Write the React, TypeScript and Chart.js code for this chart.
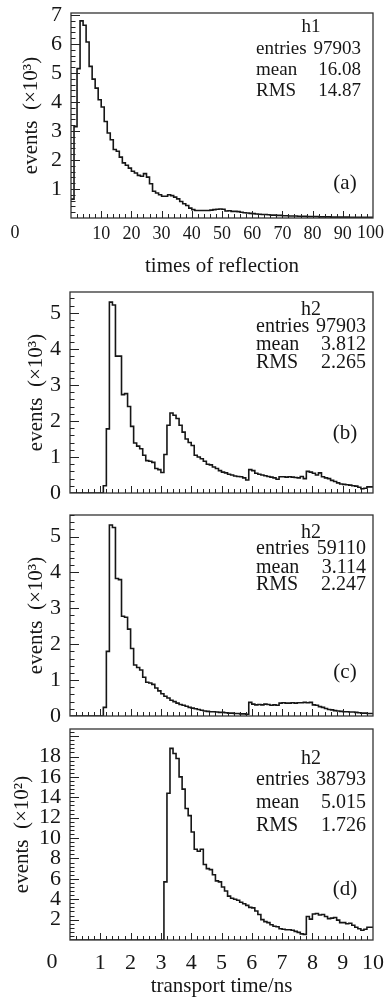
import React, { useEffect, useRef } from "react";
import { Chart, registerables } from "chart.js";

Chart.register(...registerables);

const SERIF = "'Liberation Serif', 'Times New Roman', serif";
Chart.defaults.font.family = SERIF;
Chart.defaults.color = "#111";

// ---------- data (bin contents) ----------
// (a) times of reflection, 100 bins of width 1, unit 10^3
const reflectionBins = [
  0.62, 0.65, 3.15, 5.15, 6.8, 6.65, 6.07, 5.23, 4.79, 4.48,
  4.08, 3.83, 3.33, 2.93, 2.7, 2.36, 2.3, 2.1, 1.9, 1.82,
  1.72, 1.61, 1.55, 1.47, 1.44, 1.53, 1.41, 1.18, 0.92, 0.86,
  0.8, 0.75, 0.75, 0.8, 0.77, 0.72, 0.66, 0.57, 0.49, 0.43,
  0.34, 0.29, 0.26, 0.26, 0.26, 0.26, 0.26, 0.27, 0.29, 0.3,
  0.31, 0.3, 0.24, 0.25, 0.23, 0.23, 0.22, 0.2, 0.18, 0.17,
  0.16, 0.15, 0.14, 0.13, 0.12, 0.12, 0.11, 0.1, 0.1, 0.09,
  0.09, 0.08, 0.08, 0.07, 0.07, 0.07, 0.06, 0.06, 0.06, 0.05,
  0.05, 0.05, 0.05, 0.04, 0.04, 0.04, 0.04, 0.03, 0.03, 0.03,
  0.03, 0.03, 0.03, 0.02, 0.02, 0.02, 0.02, 0.02, 0.02, 0.02,
];

// (b) transport time, all events, 100 bins of 0.1 ns, unit 10^3
const transportAllBins = [
  0, 0, 0, 0, 0, 0, 0, 0, 0, 0,
  0, 0, 0.2, 1.78, 5.3, 5.22, 3.8, 3.8, 2.73, 2.76,
  2.4, 1.85, 1.39, 1.3, 1.23, 1.05, 0.9, 0.88, 0.85, 0.68,
  0.65, 0.57, 1.07, 1.88, 2.22, 2.16, 2.07, 1.88, 1.69, 1.5,
  1.4, 1.32, 1.05, 1.0, 0.95, 0.88, 0.8, 0.78, 0.72, 0.68,
  0.62, 0.58, 0.56, 0.52, 0.5, 0.47, 0.46, 0.45, 0.42, 0.36,
  0.65, 0.62, 0.55, 0.52, 0.5, 0.48, 0.46, 0.44, 0.42, 0.38,
  0.45, 0.45, 0.44, 0.45, 0.44, 0.43, 0.42, 0.46, 0.4, 0.6,
  0.58, 0.55, 0.5, 0.56, 0.45, 0.42, 0.4, 0.35, 0.32, 0.28,
  0.25, 0.24, 0.23, 0.22, 0.2, 0.19, 0.16, 0.12, 0.13, 0.17,
];

// (c) transport time, subset, 100 bins of 0.1 ns, unit 10^3
const transportCBins = [
  0, 0, 0, 0, 0, 0, 0, 0, 0, 0,
  0, 0, 0.24, 1.8, 5.32, 5.25, 3.83, 3.8, 2.78, 2.75,
  2.42, 1.88, 1.42, 1.35, 1.28, 1.08, 0.94, 0.92, 0.88, 0.78,
  0.7, 0.62, 0.55, 0.5, 0.44, 0.4, 0.36, 0.32, 0.3, 0.27,
  0.24, 0.22, 0.2, 0.18, 0.16, 0.14, 0.13, 0.12, 0.12, 0.11,
  0.1, 0.1, 0.09, 0.08, 0.08, 0.07, 0.07, 0.06, 0.06, 0.05,
  0.38, 0.33, 0.31, 0.32, 0.31, 0.33, 0.32, 0.3, 0.31, 0.3,
  0.36, 0.37, 0.36, 0.36, 0.37, 0.36, 0.37, 0.37, 0.38, 0.37,
  0.38, 0.31, 0.3, 0.26, 0.24, 0.21, 0.18, 0.17, 0.15, 0.14,
  0.13, 0.12, 0.12, 0.11, 0.11, 0.1, 0.09, 0.08, 0.08, 0.07,
];

// (d) transport time, subset, 100 bins of 0.1 ns, unit 10^2
const transportDBins = [
  0, 0, 0, 0, 0, 0, 0, 0, 0, 0,
  0, 0, 0, 0, 0, 0, 0, 0, 0, 0,
  0, 0, 0, 0, 0, 0, 0, 0, 0, 0,
  0, 0, 5.7, 14.4, 18.8, 18.3, 17.8, 16.0, 14.8, 12.9,
  12.2, 10.6, 8.9, 8.7, 8.9, 7.4, 7.0, 6.9, 6.4, 5.8,
  5.7, 5.2, 4.8, 4.3, 4.1, 4.0, 3.9, 3.7, 3.55, 3.4,
  3.2, 3.15, 2.85, 2.5, 2.0, 1.8, 1.7, 1.5, 1.35, 1.3,
  1.1, 1.05, 1.0, 1.0, 0.95, 0.85, 0.75, 0.6, 0.55, 2.3,
  2.05, 2.55, 2.6, 2.45, 2.5, 2.3, 2.1, 2.15, 2.2, 1.95,
  1.7, 1.7, 1.6, 1.65, 1.45, 1.25, 1.1, 0.95, 1.05, 1.25,
];

// tick labels
const xTicksReflection = [10, 20, 30, 40, 50, 60, 70, 80, 90];
const xTicksTime = [1, 2, 3, 4, 5, 6, 7, 8, 9, 10];
const yTicksA = [1, 2, 3, 4, 5, 6, 7];
const yTicksBC = [0, 1, 2, 3, 4, 5];
const yTicksD = [2, 4, 6, 8, 10, 12, 14, 16, 18];

const statsA = [["entries", "97903"], ["mean", "16.08"], ["RMS", "14.87"]];
const statsB = [["entries", "97903"], ["mean", "3.812"], ["RMS", "2.265"]];
const statsC = [["entries", "59110"], ["mean", "3.114"], ["RMS", "2.247"]];
const statsD = [["entries", "38793"], ["mean", "5.015"], ["RMS", "1.726"]];

type Panel = {
  bins: number[];
  binWidth: number;
  xMax: number;
  yMax: number;
  xTicks: number[];
  yTicks: number[];
  xStep: number;
  xMinor: number;
  yStep: number;
  yMinor: number;
  top: number;
  height: number;
  padTop: number;
  padBottom: number;
  xAxisH: number;
  yAxisW: number;
  yTitle: string;
  yTitlePad: number;
  xTitle: string | null;
  showXLabels: boolean;
  xLabelPad: number;
  xLabelFont: number;
  name: string;
  stats: string[][];
  statRows: number[];
  statRight: number;
  statFont: number;
  tag: string;
  tagY: number;
  zeroLabel: { dx: number; dy: number } | null;
  maxLabel: { dy: number } | null;
};

const panels: Panel[] = [
  {
    bins: reflectionBins, binWidth: 1, xMax: 100, yMax: 7.07,
    xTicks: xTicksReflection, yTicks: yTicksA,
    xStep: 10, xMinor: 2, yStep: 1, yMinor: 0.2,
    top: 0, height: 280, padTop: 13, padBottom: 3, xAxisH: 59, yAxisW: 61,
    yTitle: "events  (×10³)", yTitlePad: 9,
    xTitle: "times of reflection", showXLabels: true, xLabelPad: 5, xLabelFont: 18,
    name: "h1", stats: statsA, statRows: [14, 36, 57, 78], statRight: 12, statFont: 19,
    tag: "(a)", tagY: 170, zeroLabel: { dx: -56, dy: 15 }, maxLabel: { dy: 15 },
  },
  {
    bins: transportAllBins, binWidth: 0.1, xMax: 10, yMax: 5.58,
    xTicks: xTicksTime, yTicks: yTicksBC,
    xStep: 1, xMinor: 0.2, yStep: 1, yMinor: 0.2,
    top: 280, height: 225, padTop: 12, padBottom: 0, xAxisH: 12, yAxisW: 60,
    yTitle: "events  (×10³)", yTitlePad: 14,
    xTitle: null, showXLabels: false, xLabelPad: 4, xLabelFont: 22,
    name: "h2", stats: statsB, statRows: [18, 35, 53, 71], statRight: 7, statFont: 20,
    tag: "(b)", tagY: 141, zeroLabel: null, maxLabel: null,
  },
  {
    bins: transportCBins, binWidth: 0.1, xMax: 10, yMax: 5.6,
    xTicks: xTicksTime, yTicks: yTicksBC,
    xStep: 1, xMinor: 0.2, yStep: 1, yMinor: 0.2,
    top: 505, height: 225, padTop: 10, padBottom: 0, xAxisH: 14, yAxisW: 60,
    yTitle: "events  (×10³)", yTitlePad: 14,
    xTitle: null, showXLabels: false, xLabelPad: 4, xLabelFont: 22,
    name: "h2", stats: statsC, statRows: [18, 34, 53, 70], statRight: 7, statFont: 20,
    tag: "(c)", tagY: 157, zeroLabel: null, maxLabel: null,
  },
  {
    bins: transportDBins, binWidth: 0.1, xMax: 10, yMax: 20.7,
    xTicks: xTicksTime, yTicks: yTicksD,
    xStep: 1, xMinor: 0.2, yStep: 2, yMinor: 0.4,
    top: 718, height: 280, padTop: 11, padBottom: 1, xAxisH: 57, yAxisW: 60,
    yTitle: "events  (×10²)", yTitlePad: 0,
    xTitle: "transport time/ns", showXLabels: true, xLabelPad: 10, xLabelFont: 22,
    name: "h2", stats: statsD, statRows: [30, 51, 74, 97], statRight: 7, statFont: 20,
    tag: "(d)", tagY: 160, zeroLabel: { dx: -18, dy: 22 }, maxLabel: null,
  },
];

const INK = "#161616";

function makeDecor(p: Panel) {
  return {
    id: "decor",
    afterDraw(chart: any) {
      const { ctx, chartArea: a, scales } = chart;
      const xs = scales.x;
      const ys = scales.y;
      ctx.save();
      // frame
      ctx.strokeStyle = "#333";
      ctx.lineWidth = 1.3;
      ctx.strokeRect(a.left, a.top, a.right - a.left, a.bottom - a.top);
      // x ticks (pointing inward)
      ctx.lineWidth = 1;
      ctx.strokeStyle = "#222";
      const nx = Math.round(p.xMax / p.xMinor);
      const xPer = Math.round(p.xStep / p.xMinor);
      for (let i = 1; i < nx; i++) {
        const px = Math.round(xs.getPixelForValue(i * p.xMinor)) + 0.5;
        const len = i % xPer === 0 ? 7 : 4;
        ctx.beginPath();
        ctx.moveTo(px, a.bottom);
        ctx.lineTo(px, a.bottom - len);
        ctx.stroke();
      }
      const ny = Math.floor(p.yMax / p.yMinor + 1e-6);
      const yPer = Math.round(p.yStep / p.yMinor);
      for (let i = 1; i <= ny; i++) {
        const py = Math.round(ys.getPixelForValue(i * p.yMinor)) + 0.5;
        const len = i % yPer === 0 ? 9 : 4.5;
        ctx.beginPath();
        ctx.moveTo(a.left, py);
        ctx.lineTo(a.left + len, py);
        ctx.stroke();
      }
      // statistics text
      ctx.fillStyle = INK;
      ctx.textBaseline = "middle";
      ctx.font = `${p.statFont}px ${SERIF}`;
      ctx.textAlign = "center";
      ctx.fillText(p.name, a.right - 62, a.top + p.statRows[0]);
      p.stats.forEach((row, k) => {
        const y = a.top + p.statRows[k + 1];
        ctx.textAlign = "left";
        ctx.fillText(row[0], a.right - 117, y);
        ctx.textAlign = "right";
        ctx.fillText(row[1], a.right - p.statRight, y);
      });
      ctx.font = `21px ${SERIF}`;
      ctx.textAlign = "center";
      ctx.fillText(p.tag, a.right - 28, a.top + p.tagY);
      // corner labels of the x axis
      ctx.font = `${p.xLabelFont}px ${SERIF}`;
      if (p.zeroLabel) {
        ctx.fillText("0", a.left + p.zeroLabel.dx, a.bottom + p.zeroLabel.dy);
      }
      if (p.maxLabel) {
        ctx.textAlign = "right";
        ctx.fillText(String(p.xMax), chart.width - 1, a.bottom + p.maxLabel.dy);
      }
      ctx.restore();
    },
  };
}

function HistPanel({ p }: { p: Panel }) {
  const ref = useRef<HTMLCanvasElement>(null);
  useEffect(() => {
    const points = p.bins.map((v, i) => ({ x: i * p.binWidth, y: v }));
    points.push({ x: p.xMax, y: p.bins[p.bins.length - 1] });
    const chart = new Chart(ref.current as HTMLCanvasElement, {
      type: "line",
      data: {
        datasets: [
          {
            data: points,
            stepped: "after",
            borderColor: INK,
            borderWidth: 1.6,
            pointRadius: 0,
            fill: false,
          },
        ],
      },
      options: {
        animation: false,
        responsive: false,
        events: [],
        layout: {
          autoPadding: false,
          padding: { left: 10, right: 12, top: p.padTop, bottom: p.padBottom },
        },
        plugins: { legend: { display: false }, tooltip: { enabled: false } },
        scales: {
          x: {
            type: "linear",
            min: 0,
            max: p.xMax,
            grid: { display: false, drawTicks: false },
            border: { display: false },
            afterBuildTicks: (s: any) => {
              s.ticks = p.xTicks.map((v) => ({ value: v }));
            },
            afterFit: (s: any) => {
              s.height = p.xAxisH;
              s.paddingLeft = 0;
              s.paddingRight = 0;
            },
            ticks: {
              display: p.showXLabels,
              autoSkip: false,
              maxRotation: 0,
              padding: p.xLabelPad,
              font: { size: p.xLabelFont, family: SERIF },
              color: INK,
            },
            title: p.xTitle
              ? {
                  display: true,
                  text: p.xTitle,
                  font: { size: 21, family: SERIF, lineHeight: 1 },
                  color: INK,
                  padding: { top: 0, bottom: 0 },
                }
              : { display: false },
          },
          y: {
            type: "linear",
            min: 0,
            max: p.yMax,
            grid: { display: false, drawTicks: false },
            border: { display: false },
            afterBuildTicks: (s: any) => {
              s.ticks = p.yTicks.map((v) => ({ value: v }));
            },
            afterFit: (s: any) => {
              s.width = p.yAxisW;
              s.paddingTop = 0;
              s.paddingBottom = 0;
            },
            ticks: {
              autoSkip: false,
              padding: 9,
              font: { size: 22, family: SERIF },
              color: INK,
            },
            title: {
              display: true,
              text: p.yTitle,
              font: { size: 21, family: SERIF },
              color: INK,
              padding: { top: p.yTitlePad, bottom: 0 },
            },
          },
        },
      },
      plugins: [makeDecor(p)],
    });
    return () => chart.destroy();
  }, []);
  return (
    <canvas
      ref={ref}
      width={385}
      height={p.height}
      style={{ position: "absolute", left: 0, top: p.top, width: 385, height: p.height }}
    />
  );
}

export default function App() {
  return (
    <div style={{ position: "absolute", left: 0, top: 0, width: 385, height: 998, background: "#fff" }}>
      {panels.map((p, i) => (
        <HistPanel key={i} p={p} />
      ))}
    </div>
  );
}
